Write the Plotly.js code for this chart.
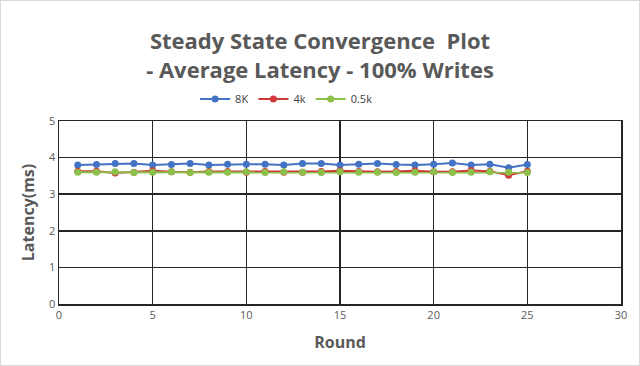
<!DOCTYPE html>
<html><head><meta charset="utf-8">
<script src="https://cdn.plot.ly/plotly-3.0.1.min.js"></script>
<style>html,body{margin:0;padding:0;background:#fff}#c{width:638px;height:364px;border:1px solid #d9d9d9}</style>
</head><body><div id="c"></div>
<script>
const rounds = [1,2,3,4,5,6,7,8,9,10,11,12,13,14,15,16,17,18,19,20,21,22,23,24,25];
const lat8K = [3.80,3.81,3.84,3.84,3.80,3.81,3.84,3.80,3.82,3.82,3.82,3.80,3.84,3.84,3.80,3.82,3.84,3.81,3.80,3.82,3.85,3.80,3.82,3.72,3.81];
const lat4k = [3.63,3.63,3.58,3.60,3.64,3.61,3.60,3.62,3.62,3.60,3.62,3.60,3.60,3.62,3.64,3.62,3.61,3.62,3.64,3.61,3.61,3.65,3.63,3.52,3.63];
const lat05k = [3.60,3.60,3.61,3.59,3.60,3.61,3.59,3.60,3.60,3.61,3.59,3.61,3.60,3.59,3.61,3.60,3.60,3.59,3.60,3.61,3.59,3.60,3.61,3.60,3.59];
const names = ['8K','4k','0.5k'];
const colors = ['#4472c4','#d0393b','#8cc04b'];
const series = [lat8K, lat4k, lat05k];
const traces = series.map((s,i)=>({x:rounds,y:s,name:names[i],type:'scatter',mode:'lines+markers',
  line:{color:colors[i],width:2},marker:{color:colors[i],size:7}}));
const fontFam = '"Open Sans", Calibri, sans-serif';
const layout = {
  width:638, height:364, margin:{l:58,r:18,t:120,b:61},
  paper_bgcolor:'#fff', plot_bgcolor:'#fff',
  font:{family:fontFam,color:'#595959',size:11},
  title:{text:'<b>Steady State Convergence  Plot<br>- Average Latency - 100% Writes</b>',x:0.5,xanchor:'center',yref:'container',y:0.868,yanchor:'middle',
    font:{size:22,color:'#595959',family:fontFam}},
  showlegend:true,
  legend:{orientation:'h',x:0.405,xanchor:'center',y:1.12,yanchor:'middle',font:{size:11,color:'#404040'},itemwidth:30,tracegroupgap:0},
  xaxis:{range:[0,30],tick0:0,dtick:5,showgrid:true,gridcolor:'#262626',gridwidth:1.5,showline:true,linecolor:'#262626',linewidth:1.5,mirror:true,zeroline:false,ticks:'',
    title:{text:'<b>Round</b>',font:{size:16,color:'#595959'},standoff:16}},
  yaxis:{range:[0,5],tick0:0,dtick:1,showgrid:true,gridcolor:'#262626',gridwidth:1.5,showline:true,linecolor:'#262626',linewidth:1.5,mirror:true,zeroline:false,ticks:'',
    title:{text:'<b>Latency(ms)</b>',font:{size:16,color:'#595959'},standoff:10}}
};
Plotly.newPlot('c',traces,layout,{displayModeBar:false,staticPlot:true});
</script></body></html>
